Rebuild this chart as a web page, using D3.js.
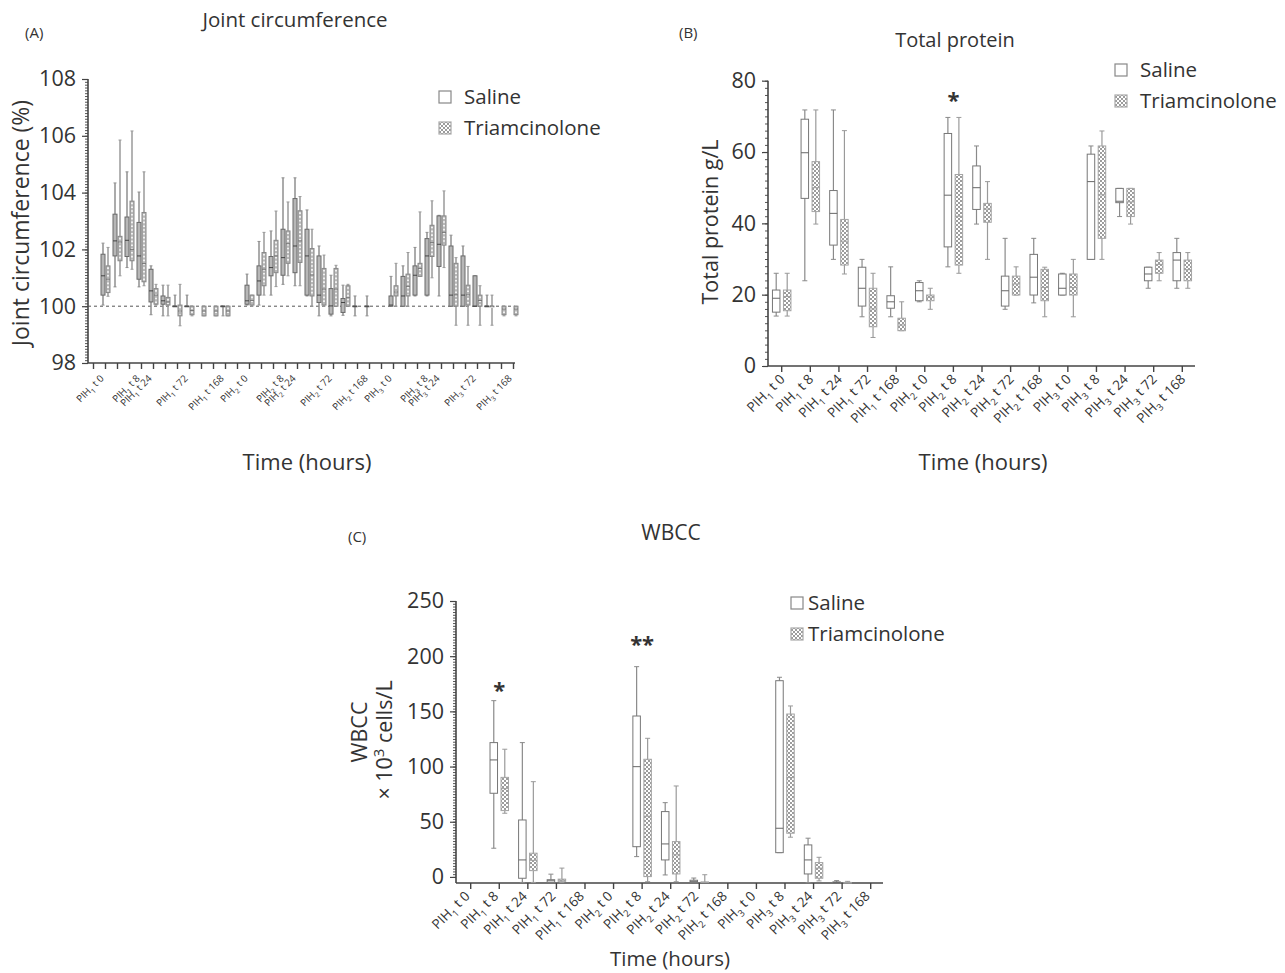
<!DOCTYPE html>
<html lang="en">
<head>
<meta charset="utf-8">
<title>Joint circumference, total protein, WBCC</title>
<style>
  body { margin: 0; background: #fff; }
  text { font-family: "Open Sans", sans-serif; fill: #333; }
</style>
</head>
<body>
<script src="https://d3js.org/d3.v7.min.js"></script>
<div id="chart"></div>
<script>
// ---------- data ----------
// panel A: 36 slots on the time axis, only some carry a label
const labelsA = ["", "PIH1 t 0", "", "", "PIH1 t 8", "PIH1 t 24", "", "", "PIH1 t 72", "", "", "PIH1 t 168",
  "", "PIH2 t 0", "", "", "PIH2 t 8", "PIH2 t 24", "", "", "PIH2 t 72", "", "", "PIH2 t 168",
  "", "PIH3 t 0", "", "", "PIH3 t 8", "PIH3 t 24", "", "", "PIH3 t 72", "", "", "PIH3 t 168"];
// [slot, low whisker, q1, median, q3, high whisker]
const salineA = [
  [1, 100.04, 100.39, 101.07, 101.83, 102.22], [2, 100.68, 101.77, 102.30, 103.24, 104.34],
  [3, 101.36, 101.75, 102.32, 103.14, 104.73], [4, 100.68, 100.95, 101.77, 102.95, 104.02],
  [5, 99.70, 100.15, 100.54, 101.30, 101.42], [6, 99.66, 100.07, 100.19, 100.36, 100.74],
  [7, 100, 100, 100, 100, 100.39], [8, 100, 100, 100, 100, 100.39], [11, 99.66, 100, 100, 100, 100],
  [13, 100.04, 100.07, 100.19, 100.74, 101.13], [14, 100.04, 100.39, 100.89, 101.42, 102.28],
  [15, 100.39, 101.07, 101.36, 101.75, 102.65], [16, 100.77, 101.09, 101.71, 102.71, 104.52],
  [17, 100.72, 101.18, 102.12, 103.79, 104.52], [18, 100.36, 100.39, 101.77, 102.71, 103.39],
  [19, 99.66, 100.13, 100.39, 101.77, 102.12], [20, 99.66, 99.72, 100.01, 100.62, 101.09],
  [21, 99.68, 99.78, 100.13, 100.27, 100.74], [22, 99.66, 100, 100, 100, 100.36], [23, 99.66, 100, 100, 100, 100.36],
  [25, 100, 100, 100.04, 100.36, 101.05], [26, 100, 100, 100.36, 101.05, 101.42],
  [27, 100.36, 100.39, 101.09, 101.42, 102.07], [28, 100.36, 100.39, 101.77, 102.38, 102.60],
  [29, 100.36, 101.40, 102.18, 103.18, 103.20], [30, 100, 100, 100.39, 102.12, 102.50],
  [31, 100, 100, 100.39, 101.77, 102.12], [32, 100, 100, 100, 101.07, 101.07], [33, 100, 100, 100, 100, 100.39]
];
const triamA = [
  [1, 100.35, 100.48, 100.95, 101.42, 102.07], [2, 101.07, 101.60, 102.26, 102.46, 105.85],
  [3, 101.30, 101.60, 102.00, 103.70, 106.17], [4, 100.72, 100.86, 101.50, 103.30, 104.73],
  [5, 100.04, 100.07, 100.39, 100.62, 100.77], [6, 99.66, 100.04, 100.15, 100.31, 100.74],
  [7, 99.31, 99.66, 99.83, 100.04, 100.77], [8, 99.66, 99.70, 99.85, 100, 100],
  [9, 99.66, 99.66, 99.83, 100, 100], [10, 99.66, 99.66, 99.83, 100, 100], [11, 99.66, 99.66, 99.83, 100, 100],
  [13, 100, 100.04, 100.20, 100.39, 100.39], [14, 100.39, 100.72, 101.30, 101.89, 102.60],
  [15, 100.69, 101.18, 101.77, 102.32, 103.35], [16, 101.07, 101.51, 102.20, 102.65, 103.67],
  [17, 100.72, 101.54, 102.30, 103.36, 103.86], [18, 100, 100.36, 101.10, 102.03, 102.71],
  [19, 100, 100.04, 100.60, 101.33, 101.80], [20, 100, 100, 100.60, 101.33, 101.44],
  [21, 100, 100, 100.30, 100.72, 100.77],
  [25, 100, 100.36, 100.50, 100.72, 101.51], [26, 100, 100.36, 100.70, 101.13, 101.89],
  [27, 101.05, 101.05, 101.33, 101.51, 103.32], [28, 101.00, 101.75, 102.24, 102.85, 103.71],
  [29, 101.36, 102.15, 102.60, 103.18, 104.06], [30, 99.33, 100, 100.40, 101.51, 101.71],
  [31, 99.33, 100.04, 100.40, 100.74, 101.40], [32, 99.33, 100, 100.20, 100.39, 100.72],
  [33, 99.33, 100, 100, 100, 100.39], [34, 99.66, 99.70, 99.90, 100, 100], [35, 99.66, 99.70, 99.90, 100, 100]
];

// panels B and C share the 15 time points
const labelsBC = ["PIH1 t 0", "PIH1 t 8", "PIH1 t 24", "PIH1 t 72", "PIH1 t 168",
  "PIH2 t 0", "PIH2 t 8", "PIH2 t 24", "PIH2 t 72", "PIH2 t 168",
  "PIH3 t 0", "PIH3 t 8", "PIH3 t 24", "PIH3 t 72", "PIH3 t 168"];
// [low whisker, q1, median, q3, high whisker]
const salineB = [
  [14.0, 15.1, 19.0, 21.3, 26.0], [23.9, 47.0, 59.8, 69.2, 71.8], [29.9, 33.9, 42.8, 49.2, 71.8],
  [13.8, 16.8, 21.8, 27.7, 29.9], [13.8, 16.2, 18.0, 19.7, 27.8], [18.0, 18.3, 21.1, 23.4, 23.9],
  [27.8, 33.4, 47.9, 65.2, 69.7], [39.8, 43.9, 50.0, 56.1, 61.7], [15.9, 16.8, 21.1, 25.2, 35.8],
  [17.7, 19.9, 24.9, 31.3, 35.8], [19.9, 19.9, 21.8, 25.8, 26.0], [29.9, 29.9, 51.7, 59.4, 61.7],
  [41.9, 45.8, 46.2, 49.8, 49.8], [21.8, 23.9, 25.8, 27.7, 27.7], [21.8, 23.9, 29.7, 31.8, 35.8]
];
const triamB = [
  [14.0, 15.5, 19.5, 21.3, 26.0], [39.8, 43.3, 50.0, 57.3, 71.8], [25.8, 28.3, 35.0, 41.1, 66.0],
  [8.0, 11.0, 16.0, 21.8, 26.0], [9.9, 9.9, 11.5, 13.4, 18.0], [15.9, 18.3, 19.3, 19.9, 21.8],
  [26.0, 28.3, 42.0, 53.7, 69.7], [29.9, 40.3, 44.0, 45.6, 51.7], [19.9, 19.9, 23.0, 25.2, 27.8],
  [13.8, 18.3, 22.0, 27.1, 27.7], [13.8, 19.9, 22.0, 25.8, 29.9], [29.9, 35.8, 48.0, 61.7, 65.9],
  [39.8, 41.9, 46.0, 49.8, 49.8], [23.9, 26.0, 28.5, 29.7, 31.8], [21.8, 23.9, 27.0, 29.7, 31.8]
];
const salineC = [
  null, [26.0, 75.8, 106.0, 121.7, 159.7], [-5, -1.2, 15.4, 51.6, 121.7], [-5, -5, -3.5, -2.5, 2.5], null,
  null, [18.4, 27.4, 99.9, 145.8, 190.5], [1.8, 15.4, 29.9, 59.2, 67.3], [-5, -5, -4, -3, -1], null,
  null, [22.0, 22.0, 44.1, 177.8, 180.9], [-5.2, 2.7, 15.4, 29.0, 35.1], [-5, -5, -5, -4.5, -3.3], null
];
const triamC = [
  null, [57.7, 60.1, 80.0, 90.2, 115.7], [-5, 5.7, 15.0, 21.5, 86.3], [-5, -4, -3, -2, 8], null,
  null, [-4.3, 0.3, 55.0, 106.6, 125.6], [-4.3, 2.7, 20.0, 32.0, 82.4], [-5, -5, -5, -4.5, 2], null,
  null, [36.0, 39.6, 90.0, 147.6, 154.9], [-3.6, -1.2, 8.0, 13.0, 17.8], [-5, -5, -5, -5, -4], null
];
// significance marks: [slot, mark, value where the mark sits]
const sigB = [[6, "*", 75.4]];
const sigC = [[1, "*", 172], [6, "**", 213.8]];

const ticksA = [98, 100, 102, 104, 106, 108];
const ticksB = [0, 20, 40, 60, 80];
const ticksC = [0, 50, 100, 150, 200, 250];

// ---------- drawing ----------
const svg = d3.select("#chart").append("svg")
  .attr("width", 1285).attr("height", 973);

const defs = svg.append("defs");
const pat = defs.append("pattern").attr("id", "checks")
  .attr("patternUnits", "userSpaceOnUse").attr("width", 4).attr("height", 4);
pat.append("rect").attr("width", 4).attr("height", 4).attr("fill", "#fff");
pat.append("rect").attr("width", 2).attr("height", 2).attr("fill", "#9c9c9c");
pat.append("rect").attr("x", 2).attr("y", 2).attr("width", 2).attr("height", 2).attr("fill", "#9c9c9c");

function pihLabel(sel, label, fs) {
  const m = label.match(/^PIH(\d) (.*)$/);
  sel.append("tspan").text("PIH");
  sel.append("tspan").attr("dy", fs * 0.3).attr("font-size", fs * 0.7).text(m[1]);
  sel.append("tspan").attr("dy", -fs * 0.3).text(" " + m[2]);
}

function drawBoxes(g, x, y, items, dx, w, st) {
  const b = g.append("g").selectAll("g").data(items).join("g");
  const cx = d => x(d.slot) + dx;
  b.append("line")
    .attr("x1", cx).attr("x2", cx)
    .attr("y1", d => y(d.s[4])).attr("y2", d => y(d.s[0]))
    .attr("stroke", st.whisker).attr("stroke-width", st.ww);
  [0, 4].forEach(k => {
    b.append("line")
      .attr("x1", d => cx(d) - st.cap).attr("x2", d => cx(d) + st.cap)
      .attr("y1", d => y(d.s[k])).attr("y2", d => y(d.s[k]))
      .attr("stroke", st.whisker).attr("stroke-width", 1);
  });
  b.append("rect")
    .attr("x", d => cx(d) - w / 2).attr("y", d => y(d.s[3]))
    .attr("width", w).attr("height", d => Math.max(0.6, y(d.s[1]) - y(d.s[3])))
    .attr("fill", st.fill).attr("stroke", st.stroke).attr("stroke-width", 1);
  if (st.dots) {
    b.append("line")
      .attr("x1", cx).attr("x2", cx)
      .attr("y1", d => y(d.s[3]) + 1.5).attr("y2", d => y(d.s[1]) - 1)
      .attr("stroke", "#fff").attr("stroke-width", 1.6).attr("stroke-dasharray", "1.6,2.2");
  }
  b.append("line")
    .attr("x1", d => cx(d) - w / 2).attr("x2", d => cx(d) + w / 2)
    .attr("y1", d => y(d.s[2])).attr("y2", d => y(d.s[2]))
    .attr("stroke", st.median).attr("stroke-width", 1);
}

function panel(p) {
  const g = svg.append("g");
  const x = d3.scalePoint().domain(d3.range(p.labels.length)).range(p.xRange);
  const y = d3.scaleLinear().domain(p.yDomain).range(p.yRange);
  const y0 = p.yRange[0];
  const ax = p.axisX[0];

  // minor y ticks
  g.append("g").attr("transform", `translate(${ax},0)`)
    .call(d3.axisLeft(y).tickValues(p.minor).tickSize(3).tickFormat(""))
    .call(a => a.select(".domain").remove())
    .selectAll("line").attr("stroke", "#555");
  // major y ticks
  const yAx = g.append("g").attr("transform", `translate(${ax},0)`)
    .call(d3.axisLeft(y).tickValues(p.major).tickSize(6).tickPadding(6))
    .call(a => a.select(".domain").remove());
  yAx.selectAll("line").attr("stroke", "#444").attr("stroke-width", 1.2);
  yAx.selectAll("text").attr("font-size", 21.5).attr("font-family", "'Open Sans', sans-serif").attr("fill", "#333");

  // axis lines
  g.append("line").attr("x1", ax).attr("x2", ax).attr("y1", y0).attr("y2", y(p.yDomain[1]))
    .attr("stroke", "#444").attr("stroke-width", 1.6);
  g.append("line").attr("x1", ax).attr("x2", p.axisX[1]).attr("y1", y0).attr("y2", y0)
    .attr("stroke", "#444").attr("stroke-width", 1.6);

  // x ticks
  g.selectAll(".xt").data(x.domain()).join("line")
    .attr("x1", d => x(d)).attr("x2", d => x(d))
    .attr("y1", y0).attr("y2", y0 + 6)
    .attr("stroke", "#444").attr("stroke-width", 1.4);

  // x tick labels, rotated
  g.selectAll(".xl").data(x.domain().filter(i => p.labels[i])).join("text")
    .attr("transform", d => `translate(${x(d) + p.labelDx},${y0 + p.labelDy}) rotate(-45)`)
    .attr("text-anchor", "end")
    .attr("font-size", p.labelSize)
    .each(function (d) { pihLabel(d3.select(this), p.labels[d], p.labelSize); });

  if (p.refLine != null) {
    g.append("line").attr("x1", ax).attr("x2", p.axisX[1])
      .attr("y1", y(p.refLine)).attr("y2", y(p.refLine))
      .attr("stroke", "#555").attr("stroke-width", 1).attr("stroke-dasharray", "3,3");
  }

  drawBoxes(g, x, y, p.saline, -p.offset, p.boxW, p.salineStyle);
  drawBoxes(g, x, y, p.triam, p.offset, p.boxW, p.triamStyle);

  (p.sig || []).forEach(s => {
    g.append("text").attr("x", x(s[0])).attr("y", y(s[2]) + 11)
      .attr("text-anchor", "middle").attr("font-size", 22).attr("font-weight", "bold")
      .attr("fill", "#222").text(s[1]);
  });

  // panel letter, title, axis titles
  g.append("text").attr("x", p.letter[1]).attr("y", p.letter[2]).attr("font-size", 15).text(p.letter[0]);
  g.append("text").attr("x", p.title[1]).attr("y", p.title[2]).attr("text-anchor", "middle")
    .attr("font-size", p.title[3]).text(p.title[0]);
  g.append("text").attr("x", p.xTitle[0]).attr("y", p.xTitle[1]).attr("text-anchor", "middle")
    .attr("font-size", p.xTitle[2]).text("Time (hours)");

  // legend
  const lg = g.append("g").attr("transform", `translate(${p.legend[0]},${p.legend[1]})`);
  [["Saline", "#fff", "#888"], ["Triamcinolone", "url(#checks)", "#aaa"]].forEach((l, i) => {
    lg.append("rect").attr("x", 0).attr("y", i * 31).attr("width", 12).attr("height", 12)
      .attr("fill", l[1]).attr("stroke", l[2]).attr("stroke-width", 1.2);
    lg.append("text").attr("x", p.legend[2]).attr("y", i * 31 + 13).attr("font-size", 20.5).text(l[0]);
  });
  return g;
}

const styleSalineBC = { fill: "#fff", stroke: "#777", whisker: "#8a8a8a", ww: 1.2, cap: 2.5, median: "#666" };
const styleTriamBC = { fill: "url(#checks)", stroke: "#a5a5a5", whisker: "#9a9a9a", ww: 1.2, cap: 2.5, median: "#a0a0a0" };

// panel A
const gA = panel({
  labels: labelsA, xRange: [93.5, 513.5], axisX: [88, 515],
  yDomain: [98, 108], yRange: [363, 79],
  major: ticksA, minor: d3.range(980, 1081).map(v => v / 10),
  labelDx: -1, labelDy: 16, labelSize: 9.8, refLine: 100,
  saline: salineA.map(d => ({ slot: d[0], s: d.slice(1) })),
  triam: triamA.map(d => ({ slot: d[0], s: d.slice(1) })),
  offset: 2.5, boxW: 4,
  salineStyle: { fill: "#b7b7b7", stroke: "#6a6a6a", whisker: "#8f8f8f", ww: 1.5, cap: 1.5, median: "#444" },
  triamStyle: { fill: "#b7b7b7", stroke: "#888", whisker: "#9a9a9a", ww: 1.5, cap: 1.5, median: "#777", dots: true },
  letter: ["(A)", 25, 38], title: ["Joint circumference", 295, 27, 20.5], xTitle: [307, 470, 22],
  legend: [439, 91, 25]
});
gA.append("text").attr("transform", "translate(29,223) rotate(-90)").attr("text-anchor", "middle")
  .attr("font-size", 23).text("Joint circumference (%)");

// panel B
const gB = panel({
  labels: labelsBC, xRange: [781.7, 1182.3], axisX: [768, 1195],
  yDomain: [0, 80], yRange: [366, 80.7],
  major: ticksB, minor: d3.range(0, 81, 2),
  labelDx: 4, labelDy: 14, labelSize: 13.5,
  saline: salineB.map((s, i) => ({ slot: i, s })).filter(d => d.s),
  triam: triamB.map((s, i) => ({ slot: i, s })).filter(d => d.s),
  offset: 5.5, boxW: 7.5, salineStyle: styleSalineBC, triamStyle: styleTriamBC, sig: sigB,
  letter: ["(B)", 679, 38], title: ["Total protein", 955, 47, 20], xTitle: [983, 470, 22],
  legend: [1115, 64, 25]
});
gB.append("text").attr("transform", "translate(718,222) rotate(-90)").attr("text-anchor", "middle")
  .attr("font-size", 21.5).text("Total protein g/L");

// panel C
const gC = panel({
  labels: labelsBC, xRange: [470.7, 870.7], axisX: [456, 883],
  yDomain: [-5.5, 250], yRange: [883, 601],
  major: ticksC, minor: d3.range(0, 251, 2.5),
  labelDx: 0, labelDy: 14, labelSize: 13.5,
  saline: salineC.map((s, i) => ({ slot: i, s })).filter(d => d.s),
  triam: triamC.map((s, i) => ({ slot: i, s })).filter(d => d.s),
  offset: 5.5, boxW: 7.5, salineStyle: styleSalineBC, triamStyle: styleTriamBC, sig: sigC,
  letter: ["(C)", 348, 542], title: ["WBCC", 671, 540, 21], xTitle: [670, 966, 20.5],
  legend: [791, 597, 17]
});
gC.append("text").attr("transform", "translate(367,732) rotate(-90)").attr("text-anchor", "middle")
  .attr("font-size", 21.5).text("WBCC");
const yl = gC.append("text").attr("transform", "translate(392,740) rotate(-90)").attr("text-anchor", "middle")
  .attr("font-size", 21.5);
yl.append("tspan").text("× 10");
yl.append("tspan").attr("dy", -8).attr("font-size", 15).text("3");
yl.append("tspan").attr("dy", 8).text(" cells/L");
</script>
</body>
</html>
